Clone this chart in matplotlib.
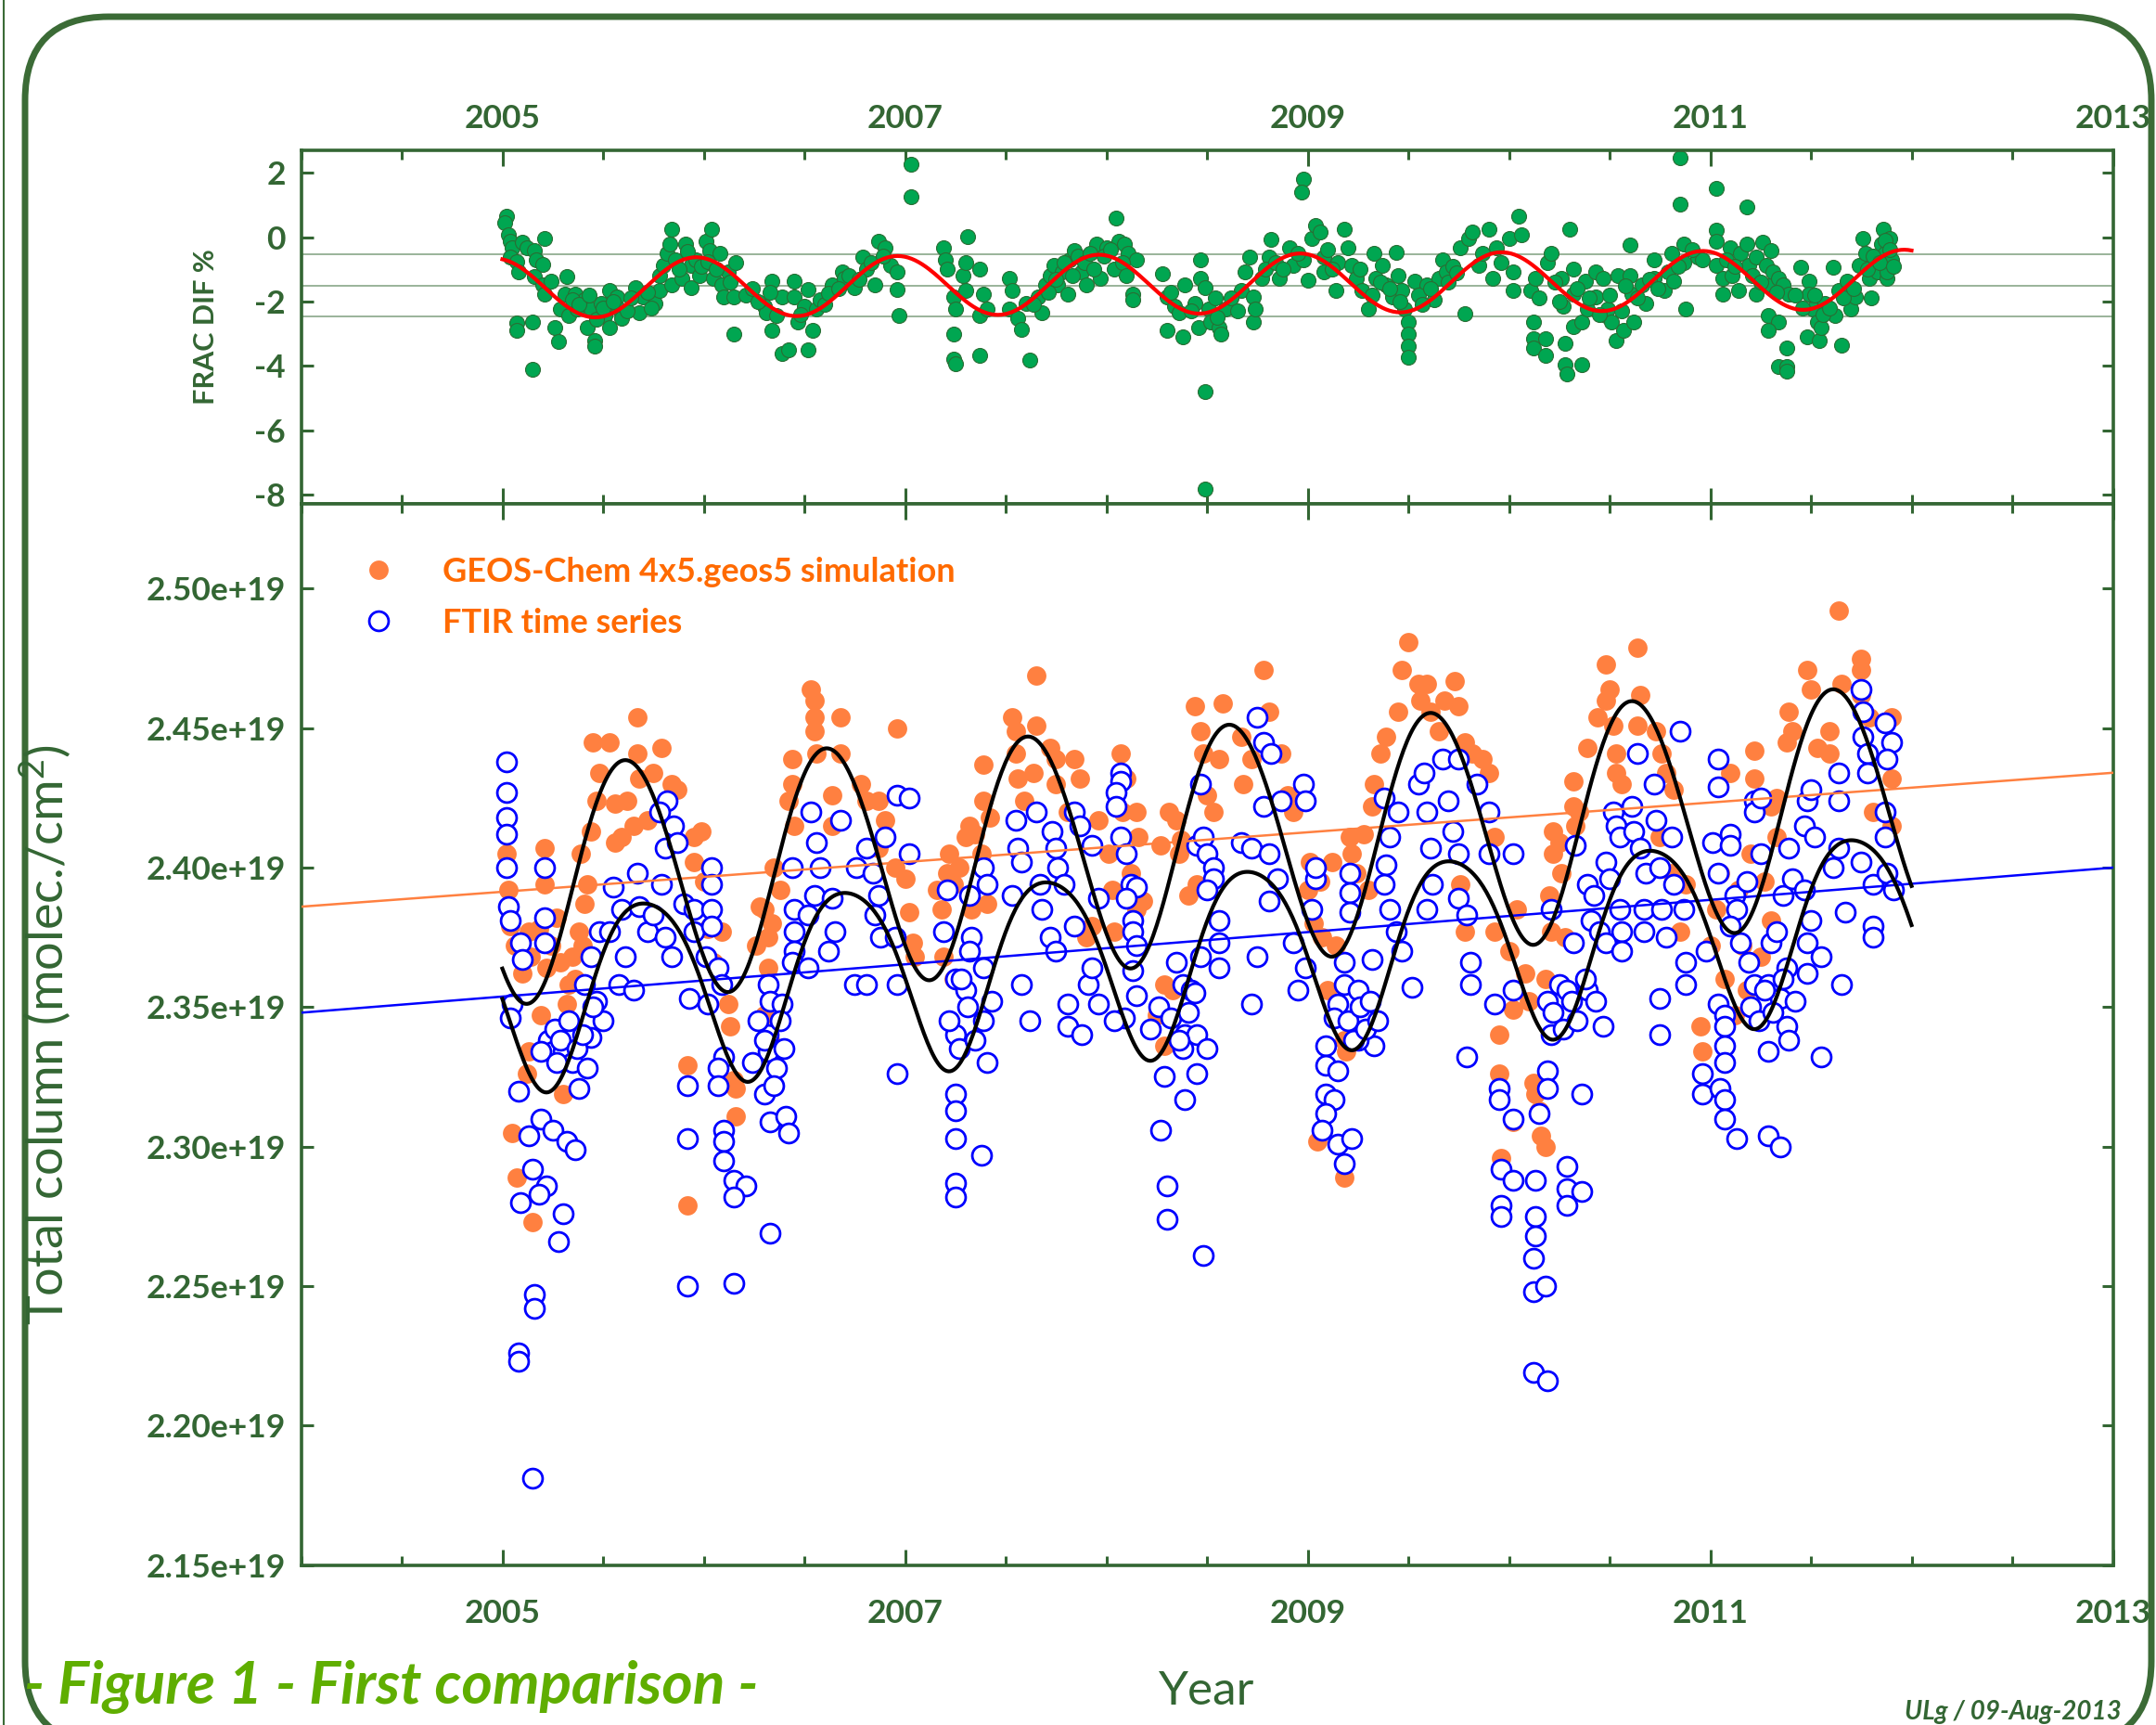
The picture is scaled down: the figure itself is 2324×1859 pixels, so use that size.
import numpy as np
import matplotlib
matplotlib.use("Agg")
import matplotlib.pyplot as plt
from matplotlib.patches import FancyBboxPatch
from matplotlib.lines import Line2D
from matplotlib.transforms import IdentityTransform
from matplotlib.ticker import MultipleLocator, FixedLocator, FuncFormatter

plt.rcParams['font.family'] = ['Lato', 'DejaVu Sans']
plt.rcParams['axes.unicode_minus'] = False
plt.rcParams['mathtext.fontset'] = 'custom'
plt.rcParams['mathtext.rm'] = 'Lato'
plt.rcParams['mathtext.it'] = 'Lato:italic'

# ---------------- data ----------------
# FRAC DIF % (top panel)
dif_t = [2005.02, 2005.01, 2005.03, 2005.04, 2005.05, 2005.04, 2005.07, 2005.08, 2005.10, 2005.12,
         2005.16, 2005.17, 2005.20, 2005.21, 2005.16, 2005.20, 2005.21, 2005.24, 2005.32, 2005.07,
         2005.07, 2005.15, 2005.15, 2005.26, 2005.28, 2005.29, 2005.31, 2005.33, 2005.36, 2005.37,
         2005.41, 2005.42, 2005.44, 2005.46, 2005.46, 2005.49, 2005.51, 2005.53, 2005.53, 2005.57,
         2005.58, 2005.59, 2005.66, 2005.68, 2005.70, 2005.76, 2005.78, 2005.78, 2005.80, 2005.82,
         2005.83, 2005.84, 2005.84, 2005.89, 2005.91, 2005.94, 2005.94, 2005.96, 2005.98, 2006.01,
         2006.03, 2006.04, 2006.05, 2006.08, 2006.09, 2006.10, 2006.12, 2006.15, 2006.16, 2006.15,
         2006.21, 2006.30, 2006.31, 2006.34, 2006.34, 2006.36, 2006.39, 2006.39, 2006.42, 2006.45,
         2006.45, 2006.47, 2006.50, 2006.52, 2006.52, 2006.54, 2006.56, 2006.58, 2006.64, 2006.69,
         2006.70, 2006.75, 2006.79, 2006.81, 2006.85, 2006.87, 2006.90, 2006.93, 2006.96, 2006.96,
         2006.97, 2007.03, 2007.03,
         2007.19, 2007.20, 2007.21, 2007.24, 2007.25, 2007.24, 2007.24, 2007.25, 2007.29, 2007.30,
         2007.31, 2007.30, 2007.37, 2007.39, 2007.37, 2007.41, 2007.37, 2007.52, 2007.53, 2007.52,
         2007.56, 2007.58, 2007.62, 2007.60, 2007.66, 2007.68, 2007.70, 2007.72, 2007.74, 2007.78,
         2007.76, 2007.81, 2007.82, 2007.84, 2007.88, 2007.90, 2007.95, 2007.97, 2008.00, 2008.05,
         2008.06, 2008.09, 2008.11, 2008.13, 2008.13, 2008.15, 2008.28, 2008.30, 2008.30, 2008.34,
         2008.36, 2008.38, 2008.39, 2008.44, 2008.46, 2008.47, 2008.47, 2008.49, 2008.49, 2008.49,
         2008.51, 2008.52, 2008.54, 2008.56, 2008.57, 2008.59, 2008.67, 2008.69, 2008.71, 2008.73,
         2008.73, 2008.74, 2008.77, 2008.81, 2008.82, 2008.86, 2008.91, 2008.93, 2008.98, 2008.97,
         2008.98, 2009.00, 2009.02, 2009.04, 2009.06, 2009.08, 2009.08, 2009.14, 2009.15, 2009.18,
         2009.20, 2009.22, 2009.24, 2009.27, 2009.30, 2009.33, 2009.34, 2009.37, 2009.39, 2009.42,
         2009.44, 2009.45, 2009.47, 2009.48, 2009.50, 2009.50, 2009.50, 2009.50, 2009.53, 2009.59,
         2009.63, 2009.65, 2009.67, 2009.69, 2009.76, 2009.78, 2009.80, 2009.82, 2009.85, 2009.90,
         2009.92, 2009.94, 2010.00, 2010.05, 2010.06, 2010.02, 2010.02,
         2010.11, 2010.13, 2010.12, 2010.12, 2010.12, 2010.18, 2010.18, 2010.19, 2010.21, 2010.26,
         2010.27, 2010.28, 2010.28, 2010.29, 2010.30, 2010.32, 2010.32, 2010.32, 2010.36, 2010.36,
         2010.38, 2010.39, 2010.43, 2010.43, 2010.47, 2010.48, 2010.49, 2010.51, 2010.53, 2010.54,
         2010.57, 2010.60, 2010.60, 2010.61, 2010.62, 2010.66, 2010.68, 2010.72, 2010.72, 2010.77,
         2010.79, 2010.81, 2010.82, 2010.85, 2010.85, 2010.87, 2010.87, 2010.88, 2010.94, 2010.96,
         2011.03, 2011.03, 2011.03, 2011.03, 2011.06, 2011.06, 2011.10, 2011.11, 2011.14, 2011.15,
         2011.18, 2011.18, 2011.19, 2011.23, 2011.23, 2011.26, 2011.28, 2011.30, 2011.30, 2011.31,
         2011.34, 2011.36, 2011.29, 2011.34, 2011.29, 2011.38, 2011.34, 2011.38, 2011.38, 2011.39,
         2011.45, 2011.49, 2011.49, 2011.48, 2011.51, 2011.53, 2011.54, 2011.55, 2011.57, 2011.61,
         2011.62, 2011.65, 2011.64, 2011.68, 2011.70, 2011.72, 2011.74, 2011.76, 2011.77, 2011.79,
         2011.80, 2011.83, 2011.85, 2011.86, 2011.87, 2011.88, 2011.89, 2011.90, 2011.88,
         # dense parts of the clusters
         2005.35, 2005.38, 2005.43, 2005.47, 2005.50, 2005.55, 2005.62, 2005.64, 2005.72, 2005.74,
         2005.86, 2005.88, 2005.92, 2005.99, 2006.02, 2006.06, 2006.13, 2006.24, 2006.27, 2006.33,
         2006.48, 2006.60, 2006.62, 2006.67, 2006.72, 2006.77, 2006.83, 2006.89,
         2007.64, 2007.71, 2007.75, 2007.79, 2007.83, 2007.86, 2007.89, 2007.92, 2007.94, 2007.99,
         2008.02, 2008.04, 2008.08, 2008.10, 2008.32, 2008.42, 2008.55, 2008.62, 2008.65, 2008.79,
         2008.84, 2008.88, 2008.95, 2009.10, 2009.12, 2009.26, 2009.32, 2009.36, 2009.41, 2009.46,
         2009.55, 2009.57, 2009.61, 2009.70, 2009.72, 2009.74, 2009.87, 2009.96,
         2010.15, 2010.23, 2010.25, 2010.34, 2010.40, 2010.45, 2010.50, 2010.56, 2010.58, 2010.64,
         2010.70, 2010.74, 2010.84, 2010.91, 2011.08, 2011.12, 2011.21, 2011.25, 2011.33, 2011.42,
         2011.46, 2011.52, 2011.56, 2011.59, 2011.66, 2011.71, 2011.78, 2011.81, 2011.84, 2011.87,
         2011.89, 2011.91]
dif_v = [0.64, 0.45, 0.07, -0.13, -0.32, -0.61, -0.75, -1.09, -0.17, -0.32,
         -0.41, -0.70, -0.85, -0.03, -1.23, -1.47, -1.76, -1.38, -1.23, -2.67,
         -2.91, -2.63, -4.12, -2.82, -3.25, -2.24, -1.76, -2.43, -1.76, -2.24,
         -1.95, -2.82, -2.24, -3.20, -3.39, -2.05, -2.43, -2.82, -1.66, -1.86,
         -2.24, -2.53, -1.57, -2.34, -1.86, -2.05, -1.66, -1.18, -0.89, -0.51,
         -0.22, 0.26, -1.47, -1.28, -0.22, -0.89, -1.57, -0.70, -1.18, -0.13,
         -0.41, 0.26, -1.28, -0.51, -1.47, -1.86, -1.09, -1.86, -0.80, -3.01,
         -1.81, -2.14, -2.34, -1.38, -2.91, -2.43, -1.86, -3.63, -3.49, -1.38,
         -1.86, -2.63, -2.14, -1.62, -3.49, -2.91, -2.24, -1.95, -1.47, -1.09,
         -1.28, -1.57, -0.61, -0.99, -1.47, -0.13, -0.32, -0.89, -1.09, -1.62,
         -2.43, 2.28, 1.27,
         -0.32, -0.70, -0.99, -1.86, -2.24, -3.01, -3.78, -3.92, -1.18, -1.66,
         0.02, -0.80, -0.99, -1.76, -2.43, -2.24, -3.68, -1.28, -1.66, -2.24,
         -2.53, -2.87, -3.83, -2.05, -1.86, -2.34, -1.47, -1.18, -0.89, -1.09,
         -1.47, -1.76, -0.70, -0.41, -1.09, -1.47, -0.22, -1.28, -0.32, 0.60,
         -0.13, -0.22, -0.51, -1.76, -1.95, -0.70, -1.13, -1.86, -2.91, -2.14,
         -2.34, -3.11, -1.47, -2.05, -2.82, -0.70, -1.28, -1.57, -4.79, -7.82,
         -2.24, -2.63, -1.90, -2.82, -3.01, -2.24, -1.66, -1.09, -0.61, -1.86,
         -2.63, -2.24, -1.28, -0.61, -0.08, -1.28, -0.32, -0.89, 1.80, 1.41,
         -0.70, -1.33, -0.03, 0.36, 0.16, -0.61, -1.09, -1.66, -0.80, 0.26,
         -0.32, -0.89, -1.28, -1.66, -2.24, -0.51, -1.28, -0.89, -1.47, -1.86,
         -0.46, -1.18, -1.66, -2.24, -2.63, -3.01, -3.39, -3.73, -1.38, -1.47,
         -1.95, -1.28, -0.70, -1.09, -0.32, -2.38, -0.03, 0.16, -0.89, 0.26,
         -1.28, -0.32, -0.03, 0.64, 0.07, -1.66, -1.09,
         -1.66, -1.28, -2.63, -3.15, -3.44, -3.15, -3.68, -0.80, -0.51, -1.28,
         -2.14, -3.30, -3.97, -4.26, 0.26, -0.99, -1.76, -2.77, -3.97, -2.63,
         -1.38, -2.24, -1.09, -1.86, -1.28, -2.43, -2.24, -2.63, -3.20, -1.18,
         -2.91, -1.18, -0.25, -1.76, -2.63, -1.47, -2.05, -0.70, -1.28, -1.66,
         -1.09, -0.51, -1.38, 2.47, 1.03, -0.22, -0.80, -2.24, -0.61, -0.70,
         1.51, 0.21, -0.13, -0.89, -1.28, -1.76, -0.32, -1.18, -1.66, -0.51,
         0.93, -0.22, -0.89, -1.76, -0.61, -0.17, -0.89, -0.41, -1.47, -1.09,
         -1.28, -1.47, -2.43, -2.63, -2.91, -3.44, -4.02, -4.02, -4.16, -1.76,
         -0.94, -1.38, -1.76, -3.11, -2.24, -2.63, -3.20, -2.82, -2.05, -0.94,
         -2.43, -3.35, -1.66, -1.38, -2.24, -1.86, -0.89, -0.03, -0.51, -1.28,
         -1.90, -1.09, -0.22, 0.26, -0.51, -1.28, -0.03, -0.70, -1.09,
         # dense parts of the clusters
         -1.95, -2.10, -1.80, -2.55, -2.20, -2.00, -2.30, -1.90, -1.70, -2.20,
         -0.70, -1.00, -0.45, -0.90, -0.75, -1.00, -1.40, -1.60, -2.00, -1.70,
         -2.40, -2.10, -1.75, -1.60, -1.20, -1.30, -0.80, -0.60,
         -2.10, -1.70, -1.30, -0.80, -1.20, -0.60, -0.80, -0.50, -1.00, -0.60,
         -0.40, -1.00, -0.80, -1.20, -1.70, -2.30, -2.50, -1.90, -2.30, -1.00,
         -0.80, -1.00, -0.50, -0.40, -1.00, -1.00, -1.80, -1.40, -1.60, -2.00,
         -1.80, -2.10, -1.60, -1.40, -0.90, -1.10, -0.50, -0.80,
         -1.90, -1.40, -2.00, -1.60, -1.90, -2.40, -1.80, -2.30, -1.50, -1.90,
         -1.30, -1.60, -0.90, -0.40, -0.70, -0.90, -1.20, -1.40, -1.70, -1.80,
         -2.20, -1.80, -2.40, -2.20, -1.90, -1.60, -1.00, -0.60, -0.80, -0.10,
         -0.40, -0.90]
dif_ref_lines = [-0.53, -1.50, -2.45]   # mean and mean +/- 1 sigma

# GEOS-Chem model total columns (x 1e19 molec./cm2)
model_t = [2005.02, 2005.03, 2005.04, 2005.21, 2005.21, 2005.13, 2005.19, 2005.13, 2005.12, 2005.05,
           2005.07, 2005.15, 2005.30, 2005.33, 2005.35, 2005.38, 2005.41, 2005.39, 2005.44, 2005.42,
           2005.45, 2005.48, 2005.53, 2005.56, 2005.59, 2005.67, 2005.67, 2005.68, 2005.65, 2005.62,
           2005.75, 2005.79, 2005.84, 2005.87, 2005.72, 2005.95, 2005.95, 2005.92, 2005.92, 2005.29,
           2005.22, 2005.32, 2005.47, 2005.56,
           2006.09, 2006.12, 2006.13, 2006.15, 2006.16, 2006.16, 2006.30, 2006.32, 2006.35, 2006.32,
           2006.30, 2006.33, 2006.44, 2006.44, 2006.42, 2006.45, 2006.53, 2006.55, 2006.55, 2006.55,
           2006.56, 2006.68, 2006.68, 2006.64, 2006.64, 2006.78, 2006.81, 2006.87, 2006.87, 2006.90,
           2006.96, 2006.95,
           2007.04, 2007.21, 2007.24, 2007.30, 2007.32, 2007.39, 2007.39, 2007.38, 2007.41, 2007.33,
           2007.53, 2007.55, 2007.55, 2007.65, 2007.65, 2007.56, 2007.59, 2007.64, 2007.72, 2007.75,
           2007.75, 2007.84, 2007.87, 2007.81, 2007.96, 2007.93, 2007.90, 2007.18, 2007.19, 2007.24,
           2008.07, 2008.10, 2008.15, 2008.16, 2008.15, 2008.04, 2008.29, 2008.29, 2008.35, 2008.36,
           2008.44, 2008.47, 2008.58, 2008.48, 2008.56, 2008.50, 2008.53, 2008.67, 2008.72, 2008.68,
           2008.78, 2008.81, 2008.87, 2008.90, 2008.93, 2008.45, 2008.41, 2008.25, 2008.33,
           2009.21, 2009.22, 2009.18, 2009.18, 2009.05, 2009.32, 2009.33, 2009.36, 2009.39, 2009.45,
           2009.47, 2009.50, 2009.55, 2009.59, 2009.56, 2009.61, 2009.73, 2009.75, 2009.68, 2009.65,
           2009.78, 2009.82, 2009.87, 2009.90, 2009.93, 2009.78, 2009.93, 2009.76, 2009.95, 2009.95,
           2009.96, 2010.02, 2010.02, 2009.01, 2009.07, 2009.10, 2009.19,
           2010.13, 2010.15, 2010.16, 2010.18, 2010.12, 2010.21, 2010.18, 2010.22, 2010.22, 2010.25,
           2010.32, 2010.32, 2010.33, 2010.39, 2010.44, 2010.48, 2010.50, 2010.48, 2010.52, 2010.53,
           2010.53, 2010.56, 2010.64, 2010.65, 2010.64, 2010.73, 2010.76, 2010.78, 2010.82, 2010.75,
           2010.81, 2010.88, 2010.85, 2010.95, 2010.96,
           2011.10, 2011.22, 2011.22, 2011.30, 2011.33, 2011.30, 2011.39, 2011.38, 2011.41, 2011.48,
           2011.50, 2011.53, 2011.59, 2011.64, 2011.65, 2011.59, 2011.75, 2011.75, 2011.75, 2011.79,
           2011.90, 2011.90, 2011.81, 2011.90, 2011.07, 2011.12, 2011.18, 2011.25,
           # points partly hidden under the FTIR circles (winter / spring)
           2005.06, 2005.10, 2005.14, 2005.18, 2005.24, 2005.27, 2005.36, 2005.40,
           2005.99, 2006.00, 2006.02, 2006.05, 2006.26, 2006.28, 2006.34, 2006.38,
           2007.00, 2007.02, 2007.05, 2007.16, 2007.22, 2007.27, 2007.35, 2007.42,
           2008.01, 2008.03, 2008.08, 2008.12, 2008.18, 2008.27, 2008.31, 2008.37,
           2009.00, 2009.03, 2009.06, 2009.12, 2009.24, 2009.28, 2009.30, 2009.14,
           2010.00, 2010.04, 2010.08, 2010.10, 2010.20, 2010.26, 2010.28, 2010.35,
           2011.00, 2011.03, 2011.05, 2011.14, 2011.16, 2011.20, 2011.27, 2011.33]
model_v = [2.405, 2.392, 2.379, 2.407, 2.394, 2.377, 2.347, 2.334, 2.326, 2.305,
           2.289, 2.273, 2.319, 2.358, 2.368, 2.377, 2.387, 2.405, 2.413, 2.394,
           2.445, 2.434, 2.445, 2.423, 2.411, 2.454, 2.441, 2.432, 2.415, 2.424,
           2.434, 2.443, 2.430, 2.428, 2.417, 2.411, 2.402, 2.329, 2.279, 2.366,
           2.364, 2.351, 2.424, 2.409,
           2.377, 2.351, 2.343, 2.324, 2.311, 2.321, 2.385, 2.375, 2.400, 2.364,
           2.347, 2.338, 2.439, 2.430, 2.424, 2.415, 2.464, 2.460, 2.454, 2.449,
           2.441, 2.454, 2.441, 2.426, 2.415, 2.430, 2.424, 2.424, 2.407, 2.417,
           2.450, 2.400,
           2.373, 2.398, 2.394, 2.411, 2.415, 2.437, 2.424, 2.405, 2.387, 2.385,
           2.454, 2.449, 2.441, 2.469, 2.451, 2.432, 2.424, 2.434, 2.443, 2.439,
           2.430, 2.439, 2.432, 2.420, 2.417, 2.379, 2.375, 2.385, 2.368, 2.360,
           2.441, 2.432, 2.420, 2.411, 2.385, 2.377, 2.358, 2.336, 2.417, 2.405,
           2.458, 2.449, 2.459, 2.441, 2.439, 2.426, 2.420, 2.447, 2.439, 2.430,
           2.471, 2.456, 2.441, 2.426, 2.420, 2.394, 2.390, 2.347, 2.356,
           2.411, 2.405, 2.338, 2.289, 2.302, 2.422, 2.430, 2.441, 2.447, 2.456,
           2.471, 2.481, 2.466, 2.466, 2.460, 2.456, 2.467, 2.458, 2.460, 2.449,
           2.445, 2.441, 2.439, 2.434, 2.411, 2.377, 2.377, 2.394, 2.340, 2.326,
           2.296, 2.349, 2.309, 2.402, 2.375, 2.356, 2.334,
           2.319, 2.313, 2.304, 2.300, 2.323, 2.377, 2.360, 2.405, 2.413, 2.409,
           2.431, 2.422, 2.415, 2.443, 2.454, 2.473, 2.464, 2.460, 2.451, 2.441,
           2.434, 2.430, 2.479, 2.462, 2.451, 2.449, 2.441, 2.434, 2.428, 2.411,
           2.398, 2.394, 2.377, 2.343, 2.334,
           2.434, 2.442, 2.432, 2.422, 2.411, 2.381, 2.456, 2.445, 2.449, 2.471,
           2.464, 2.443, 2.449, 2.492, 2.466, 2.441, 2.475, 2.471, 2.462, 2.454,
           2.454, 2.432, 2.420, 2.415, 2.360, 2.347, 2.356, 2.368,
           2.372, 2.362, 2.368, 2.378, 2.372, 2.382, 2.360, 2.372,
           2.413, 2.395, 2.378, 2.366, 2.372, 2.386, 2.380, 2.392,
           2.396, 2.384, 2.368, 2.392, 2.405, 2.400, 2.412, 2.418,
           2.405, 2.392, 2.420, 2.398, 2.388, 2.408, 2.420, 2.410,
           2.392, 2.380, 2.395, 2.402, 2.398, 2.412, 2.392, 2.372,
           2.370, 2.385, 2.362, 2.352, 2.390, 2.398, 2.375, 2.420,
           2.372, 2.385, 2.398, 2.392, 2.372, 2.405, 2.395, 2.425]

# FTIR total columns (x 1e19 molec./cm2)
ftir_t = [2005.02, 2005.02, 2005.02, 2005.02, 2005.02, 2005.03, 2005.04, 2005.09, 2005.10, 2005.05,
          2005.04, 2005.21, 2005.21, 2005.21, 2005.08, 2005.23, 2005.25, 2005.30, 2005.35, 2005.19,
          2005.27, 2005.13, 2005.19, 2005.25, 2005.32, 2005.36, 2005.15, 2005.22, 2005.18, 2005.09,
          2005.30, 2005.28, 2005.16, 2005.16, 2005.08, 2005.08, 2005.15, 2005.38, 2005.42, 2005.44,
          2005.50, 2005.41, 2005.47, 2005.44, 2005.48, 2005.55, 2005.59, 2005.53, 2005.61, 2005.58,
          2005.65, 2005.67, 2005.68, 2005.72, 2005.75, 2005.79, 2005.81, 2005.84, 2005.81, 2005.82,
          2005.85, 2005.78, 2005.87, 2005.90, 2005.95, 2005.95, 2005.93, 2005.92, 2005.92, 2005.92,
          2006.04, 2006.04, 2006.04, 2006.04, 2006.01, 2006.07, 2006.09, 2006.02, 2006.10, 2006.07,
          2006.07, 2006.10, 2006.10, 2006.10, 2006.15, 2006.21, 2006.15, 2006.33, 2006.15, 2006.32,
          2006.33, 2006.39, 2006.32, 2006.32, 2006.36, 2006.30, 2006.33, 2006.41, 2006.42, 2006.44,
          2006.45, 2006.45, 2006.45, 2006.44, 2006.52, 2006.53, 2006.56, 2006.58, 2006.55, 2006.52,
          2006.64, 2006.65, 2006.62, 2006.68, 2006.75, 2006.81, 2006.76, 2006.81, 2006.84, 2006.87,
          2006.85, 2006.90, 2006.88, 2006.95, 2006.96, 2007.02, 2007.02, 2006.96, 2006.96,
          2007.21, 2007.19, 2007.25, 2007.30, 2007.32, 2007.25, 2007.39, 2007.41, 2007.25, 2007.25,
          2007.25, 2007.38, 2007.25, 2007.25, 2007.39, 2007.41, 2007.33, 2007.39, 2007.32, 2007.53,
          2007.55, 2007.56, 2007.58, 2007.58, 2007.62, 2007.65, 2007.67, 2007.68, 2007.72, 2007.73,
          2007.75, 2007.75, 2007.76, 2007.79, 2007.81, 2007.81, 2007.84, 2007.84, 2007.87, 2007.88,
          2007.91, 2007.93, 2007.96, 2007.93, 2007.96,
          2008.07, 2008.07, 2008.05, 2008.05, 2008.07, 2008.10, 2008.12, 2008.15, 2008.10, 2008.13,
          2008.13, 2008.15, 2008.13, 2008.15, 2008.09, 2008.04, 2008.29, 2008.39, 2008.27, 2008.30,
          2008.30, 2008.48, 2008.35, 2008.38, 2008.42, 2008.39, 2008.38, 2008.45, 2008.50, 2008.45,
          2008.47, 2008.45, 2008.48, 2008.50, 2008.53, 2008.53, 2008.50, 2008.47, 2008.56, 2008.56,
          2008.56, 2008.67, 2008.72, 2008.72, 2008.75, 2008.75, 2008.78, 2008.82, 2008.78, 2008.81,
          2008.81, 2008.85, 2008.87, 2008.93, 2008.95, 2008.98, 2008.99, 2008.99,
          2009.04, 2009.02, 2009.04, 2009.21, 2009.21, 2009.21, 2009.18, 2009.18, 2009.15, 2009.13,
          2009.09, 2009.09, 2009.15, 2009.09, 2009.13, 2009.09, 2009.07, 2009.15, 2009.22, 2009.18,
          2009.25, 2009.27, 2009.32, 2009.33, 2009.25, 2009.38, 2009.41, 2009.45, 2009.39, 2009.38,
          2009.41, 2009.44, 2009.47, 2009.52, 2009.55, 2009.58, 2009.59, 2009.61, 2009.62, 2009.59,
          2009.67, 2009.70, 2009.75, 2009.72, 2009.75, 2009.75, 2009.79, 2009.84, 2009.81, 2009.81,
          2009.90, 2009.90, 2009.79, 2009.93, 2010.02, 2010.02, 2009.95, 2009.95, 2010.02, 2009.96,
          2009.96, 2009.96, 2010.02,
          2010.15, 2010.19, 2010.19, 2010.36, 2010.13, 2010.13, 2010.13, 2010.12, 2010.12, 2010.18,
          2010.12, 2010.19, 2010.29, 2010.29, 2010.29, 2010.36, 2010.21, 2010.19, 2010.21, 2010.25,
          2010.29, 2010.32, 2010.33, 2010.41, 2010.39, 2010.47, 2010.45, 2010.48, 2010.39, 2010.42,
          2010.52, 2010.53, 2010.55, 2010.48, 2010.50, 2010.55, 2010.56, 2010.56, 2010.61, 2010.62,
          2010.65, 2010.68, 2010.67, 2010.64, 2010.67, 2010.72, 2010.73, 2010.75, 2010.76, 2010.78,
          2010.75, 2010.75, 2010.81, 2010.82, 2010.85, 2010.87, 2010.88, 2010.88, 2010.96, 2010.96,
          2011.04, 2011.04, 2011.01, 2011.04, 2011.10, 2011.10, 2010.98, 2011.04, 2011.07, 2011.07,
          2011.07, 2011.07, 2011.05, 2011.07, 2011.07, 2011.13, 2011.29, 2011.35, 2011.22, 2011.22,
          2011.25, 2011.25, 2011.12, 2011.18, 2011.13, 2011.10, 2011.15, 2011.19, 2011.22, 2011.29,
          2011.30, 2011.33, 2011.35, 2011.29, 2011.38, 2011.39, 2011.38, 2011.36, 2011.39, 2011.41,
          2011.48, 2011.50, 2011.47, 2011.52, 2011.47, 2011.50, 2011.48, 2011.48, 2011.55, 2011.55,
          2011.64, 2011.64, 2011.64, 2011.61, 2011.67, 2011.65, 2011.75, 2011.76, 2011.76, 2011.78,
          2011.78, 2011.75, 2011.81, 2011.81, 2011.81, 2011.87, 2011.90, 2011.88, 2011.87, 2011.87,
          2011.88, 2011.91,
          # dense spring clusters
          2005.26, 2005.29, 2005.33, 2005.37, 2005.40, 2005.45,
          2006.24, 2006.27, 2006.30, 2006.35, 2006.38, 2006.40,
          2007.22, 2007.27, 2007.31, 2007.35, 2007.43, 2007.28,
          2008.22, 2008.26, 2008.32, 2008.36, 2008.41, 2008.44,
          2009.20, 2009.23, 2009.26, 2009.29, 2009.31, 2009.35,
          2010.22, 2010.27, 2010.31, 2010.34, 2010.38, 2010.43,
          2011.20, 2011.24, 2011.27, 2011.31, 2011.36, 2011.42]
ftir_v = [2.438, 2.427, 2.418, 2.412, 2.400, 2.386, 2.381, 2.373, 2.367, 2.351,
          2.346, 2.400, 2.382, 2.373, 2.320, 2.338, 2.334, 2.334, 2.330, 2.334,
          2.330, 2.304, 2.310, 2.306, 2.302, 2.299, 2.292, 2.286, 2.283, 2.280,
          2.276, 2.266, 2.247, 2.242, 2.226, 2.223, 2.181, 2.321, 2.328, 2.339,
          2.345, 2.358, 2.352, 2.368, 2.377, 2.393, 2.385, 2.377, 2.368, 2.358,
          2.356, 2.398, 2.386, 2.377, 2.383, 2.394, 2.375, 2.368, 2.407, 2.424,
          2.415, 2.420, 2.409, 2.387, 2.385, 2.377, 2.353, 2.322, 2.303, 2.250,
          2.400, 2.394, 2.385, 2.379, 2.368, 2.364, 2.358, 2.351, 2.332, 2.328,
          2.322, 2.306, 2.302, 2.295, 2.288, 2.286, 2.282, 2.269, 2.251, 2.358,
          2.352, 2.351, 2.340, 2.334, 2.328, 2.319, 2.309, 2.311, 2.305, 2.400,
          2.385, 2.377, 2.370, 2.366, 2.364, 2.420, 2.409, 2.400, 2.390, 2.383,
          2.389, 2.377, 2.370, 2.417, 2.358, 2.358, 2.400, 2.407, 2.398, 2.390,
          2.383, 2.411, 2.375, 2.375, 2.426, 2.425, 2.405, 2.358, 2.326,
          2.392, 2.377, 2.360, 2.356, 2.390, 2.340, 2.345, 2.330, 2.319, 2.313,
          2.303, 2.297, 2.287, 2.282, 2.400, 2.394, 2.375, 2.364, 2.370, 2.390,
          2.417, 2.407, 2.402, 2.358, 2.345, 2.420, 2.394, 2.385, 2.375, 2.413,
          2.407, 2.370, 2.400, 2.394, 2.351, 2.343, 2.379, 2.420, 2.415, 2.340,
          2.358, 2.364, 2.351, 2.408, 2.389,
          2.434, 2.431, 2.427, 2.422, 2.411, 2.405, 2.394, 2.393, 2.389, 2.381,
          2.377, 2.372, 2.363, 2.354, 2.346, 2.345, 2.325, 2.317, 2.306, 2.286,
          2.274, 2.261, 2.366, 2.358, 2.356, 2.340, 2.335, 2.340, 2.335, 2.326,
          2.430, 2.408, 2.411, 2.405, 2.400, 2.396, 2.392, 2.368, 2.381, 2.373,
          2.364, 2.409, 2.407, 2.351, 2.368, 2.454, 2.445, 2.441, 2.422, 2.405,
          2.388, 2.396, 2.424, 2.373, 2.356, 2.430, 2.424, 2.364,
          2.396, 2.385, 2.400, 2.398, 2.391, 2.384, 2.366, 2.358, 2.351, 2.346,
          2.336, 2.329, 2.327, 2.319, 2.317, 2.312, 2.306, 2.301, 2.303, 2.294,
          2.356, 2.347, 2.367, 2.336, 2.338, 2.425, 2.411, 2.420, 2.401, 2.394,
          2.385, 2.377, 2.370, 2.357, 2.430, 2.434, 2.420, 2.407, 2.394, 2.385,
          2.439, 2.424, 2.439, 2.413, 2.405, 2.389, 2.383, 2.430, 2.366, 2.358,
          2.420, 2.405, 2.332, 2.351, 2.405, 2.356, 2.321, 2.317, 2.310, 2.292,
          2.279, 2.275, 2.288,
          2.312, 2.327, 2.321, 2.319, 2.288, 2.275, 2.268, 2.260, 2.248, 2.250,
          2.219, 2.216, 2.293, 2.285, 2.279, 2.284, 2.385, 2.352, 2.340, 2.358,
          2.356, 2.373, 2.408, 2.381, 2.356, 2.343, 2.377, 2.373, 2.394, 2.390,
          2.420, 2.415, 2.411, 2.402, 2.396, 2.385, 2.377, 2.370, 2.422, 2.413,
          2.407, 2.398, 2.385, 2.441, 2.377, 2.430, 2.417, 2.400, 2.385, 2.375,
          2.353, 2.340, 2.411, 2.394, 2.449, 2.385, 2.366, 2.358, 2.326, 2.319,
          2.439, 2.429, 2.409, 2.398, 2.412, 2.408, 2.370, 2.351, 2.347, 2.343,
          2.336, 2.330, 2.321, 2.317, 2.310, 2.303, 2.304, 2.300, 2.424, 2.420,
          2.425, 2.405, 2.390, 2.395, 2.385, 2.379, 2.373, 2.366, 2.358, 2.358,
          2.373, 2.377, 2.353, 2.334, 2.343, 2.338, 2.364, 2.390, 2.407, 2.396,
          2.424, 2.428, 2.415, 2.411, 2.392, 2.381, 2.373, 2.362, 2.368, 2.332,
          2.434, 2.424, 2.407, 2.400, 2.384, 2.358, 2.464, 2.456, 2.447, 2.441,
          2.434, 2.402, 2.394, 2.379, 2.375, 2.452, 2.445, 2.439, 2.420, 2.411,
          2.398, 2.392,
          2.342, 2.338, 2.345, 2.335, 2.340, 2.350,
          2.330, 2.345, 2.338, 2.322, 2.345, 2.335,
          2.345, 2.335, 2.350, 2.338, 2.352, 2.360,
          2.342, 2.350, 2.346, 2.338, 2.348, 2.355,
          2.345, 2.338, 2.350, 2.342, 2.352, 2.345,
          2.348, 2.342, 2.352, 2.345, 2.360, 2.352,
          2.350, 2.345, 2.356, 2.348, 2.360, 2.352]

# linear trends read at both ends of the axis (x 1e19)
trend_years = [2004.0, 2013.0]
model_trend = [2.386, 2.434]
ftir_trend = [2.348, 2.400]

x_major = [2005, 2007, 2009, 2011, 2013]
dif_ticks = [2, 0, -2, -4, -6, -8]
col_ticks = [2.15, 2.20, 2.25, 2.30, 2.35, 2.40, 2.45, 2.50]
legend_labels = ['GEOS-Chem 4x5.geos5 simulation', 'FTIR time series']

# ---------------- styles ----------------
DKGREEN = '#336633'
FRAME = '#3b6b36'
ORANGE = '#ff8040'
LEGTXT = '#ff6a00'
BLUE = '#0000ff'
DOTGREEN = '#00a651'
DOTEDGE = '#2a6e34'
CAPTION = '#5fae00'


def harmonic_fit(t, y, nh):
    t = np.asarray(t, float)
    y = np.asarray(y, float)

    def design(tt):
        cols = [np.ones_like(tt), tt - 2008.5]
        for k in range(1, nh + 1):
            cols += [np.cos(2 * np.pi * k * tt), np.sin(2 * np.pi * k * tt)]
        return np.column_stack(cols)
    coef, *_ = np.linalg.lstsq(design(t), y, rcond=None)
    return lambda tt: design(np.asarray(tt, float)) @ coef


W, H = 2324, 1859
fig = plt.figure(figsize=(W / 100, H / 100), dpi=100)
fig.patch.set_facecolor('white')

L, R = 324.5 / W, 2277.5 / W
ax1 = fig.add_axes([L, 1 - 543 / H, R - L, (543 - 162) / H])
ax2 = fig.add_axes([L, 1 - 1686.6 / H, R - L, (1686.6 - 543) / H])

tickfont = dict(family='Lato', weight='bold', size=25.5)

for ax in (ax1, ax2):
    ax.set_xlim(2004, 2013)
    ax.xaxis.set_major_locator(FixedLocator(x_major))
    ax.xaxis.set_minor_locator(MultipleLocator(0.5))
    ax.tick_params(axis='both', which='both', direction='in', colors=DKGREEN,
                   top=True, bottom=True, left=True, right=True, width=2.2)
    ax.tick_params(axis='x', which='major', length=12)
    ax.tick_params(axis='x', which='minor', length=7)
    ax.tick_params(axis='y', which='major', length=9)
    for s in ax.spines.values():
        s.set_color(DKGREEN)
        s.set_linewidth(2.6)

# ---- top panel ----
ax1.set_ylim(-8.29, 2.70)
ax1.yaxis.set_major_locator(FixedLocator(dif_ticks))
ax1.tick_params(axis='x', labeltop=True, labelbottom=False, pad=13)
ax1.tick_params(axis='y', pad=12)
for yv in dif_ref_lines:
    ax1.axhline(yv, color='#7f9f7f', lw=1.1, zorder=1)
ax1.plot(dif_t, dif_v, ls='none', marker='o', ms=11.5, mfc=DOTGREEN, mec=DOTEDGE, mew=0.8, zorder=2)
fd = harmonic_fit(dif_t, dif_v, 1)
tt = np.linspace(2005.0, 2012.0, 800)
ax1.plot(tt, fd(tt), color='#ff0000', lw=3.0, zorder=3)
for lab in ax1.get_xticklabels() + ax1.get_yticklabels():
    lab.set_fontproperties(tickfont)
    lab.set_color(DKGREEN)

# ---- bottom panel ----
ax2.set_ylim(2.15, 2.5304)
ax2.yaxis.set_major_locator(FixedLocator(col_ticks))
ax2.yaxis.set_major_formatter(FuncFormatter(lambda v, p: f'{v:.2f}e+19'))
ax2.tick_params(axis='x', labeltop=False, labelbottom=True, pad=26)
ax2.tick_params(axis='y', pad=12)

ax2.plot(model_t, model_v, ls='none', marker='o', ms=15, mfc=ORANGE, mec='none', zorder=2)
ax2.plot(ftir_t, ftir_v, ls='none', marker='o', ms=15, mfc='white', mec=BLUE, mew=2.0, zorder=3)

ax2.plot(trend_years, model_trend, color=ORANGE, lw=1.8, zorder=4)
ax2.plot(trend_years, ftir_trend, color=BLUE, lw=1.8, zorder=4)
fm = harmonic_fit(model_t, model_v, 2)
ff = harmonic_fit(ftir_t, ftir_v, 2)
ax2.plot(tt, fm(tt), color='black', lw=3.0, zorder=5)
ax2.plot(tt, ff(tt), color='black', lw=3.0, zorder=5)
for lab in ax2.get_xticklabels() + ax2.get_yticklabels():
    lab.set_fontproperties(tickfont)
    lab.set_color(DKGREEN)

h1 = Line2D([], [], ls='none', marker='o', ms=15, mfc=ORANGE, mec='none')
h2 = Line2D([], [], ls='none', marker='o', ms=15, mfc='white', mec=BLUE, mew=2.0)
leg = ax2.legend([h1, h2], legend_labels, loc='upper left', bbox_to_anchor=(0.0333, 0.9505),
                 frameon=False, prop=dict(family='Lato', weight='bold', size=26),
                 handlelength=1.0, handletextpad=1.43, labelspacing=0.62,
                 borderpad=0, borderaxespad=0)
for t in leg.get_texts():
    t.set_color(LEGTXT)

# ---- labels ----
fig.text(222 / W, 1 - 352 / H, 'FRAC DIF %', rotation=90, ha='center', va='center',
         fontsize=22, fontweight='bold', color=DKGREEN)
fig.text(50 / W, 1 - 1115 / H, 'Total column (molec./cm$^2$)', rotation=90, ha='center',
         va='center', fontsize=39, color=DKGREEN)
fig.text(1301 / W, 1 - 1823 / H, 'Year', ha='center', va='center', fontsize=37, color=DKGREEN)
fig.text(26 / W, 1 - 1818 / H, '- Figure 1 - First comparison -', ha='left', va='center',
         fontsize=46, fontweight='bold', fontstyle='italic', color=CAPTION)
fig.text(2287 / W, 1 - 1845 / H, 'ULg / 09-Aug-2013', ha='right', va='center',
         fontsize=20, fontweight='bold', fontstyle='italic', color=DKGREEN)

# ---- frame ----
frame = FancyBboxPatch((27, -21), 2319 - 27, 1841 + 21, boxstyle='round,pad=0,rounding_size=90',
                       transform=IdentityTransform(), fill=False, ec=FRAME, lw=5, clip_on=False)
fig.add_artist(frame)
fig.add_artist(Line2D([4, 4], [0, H], transform=IdentityTransform(), color=FRAME, lw=1.5))

fig.savefig('out.png', dpi=100, facecolor='white')
